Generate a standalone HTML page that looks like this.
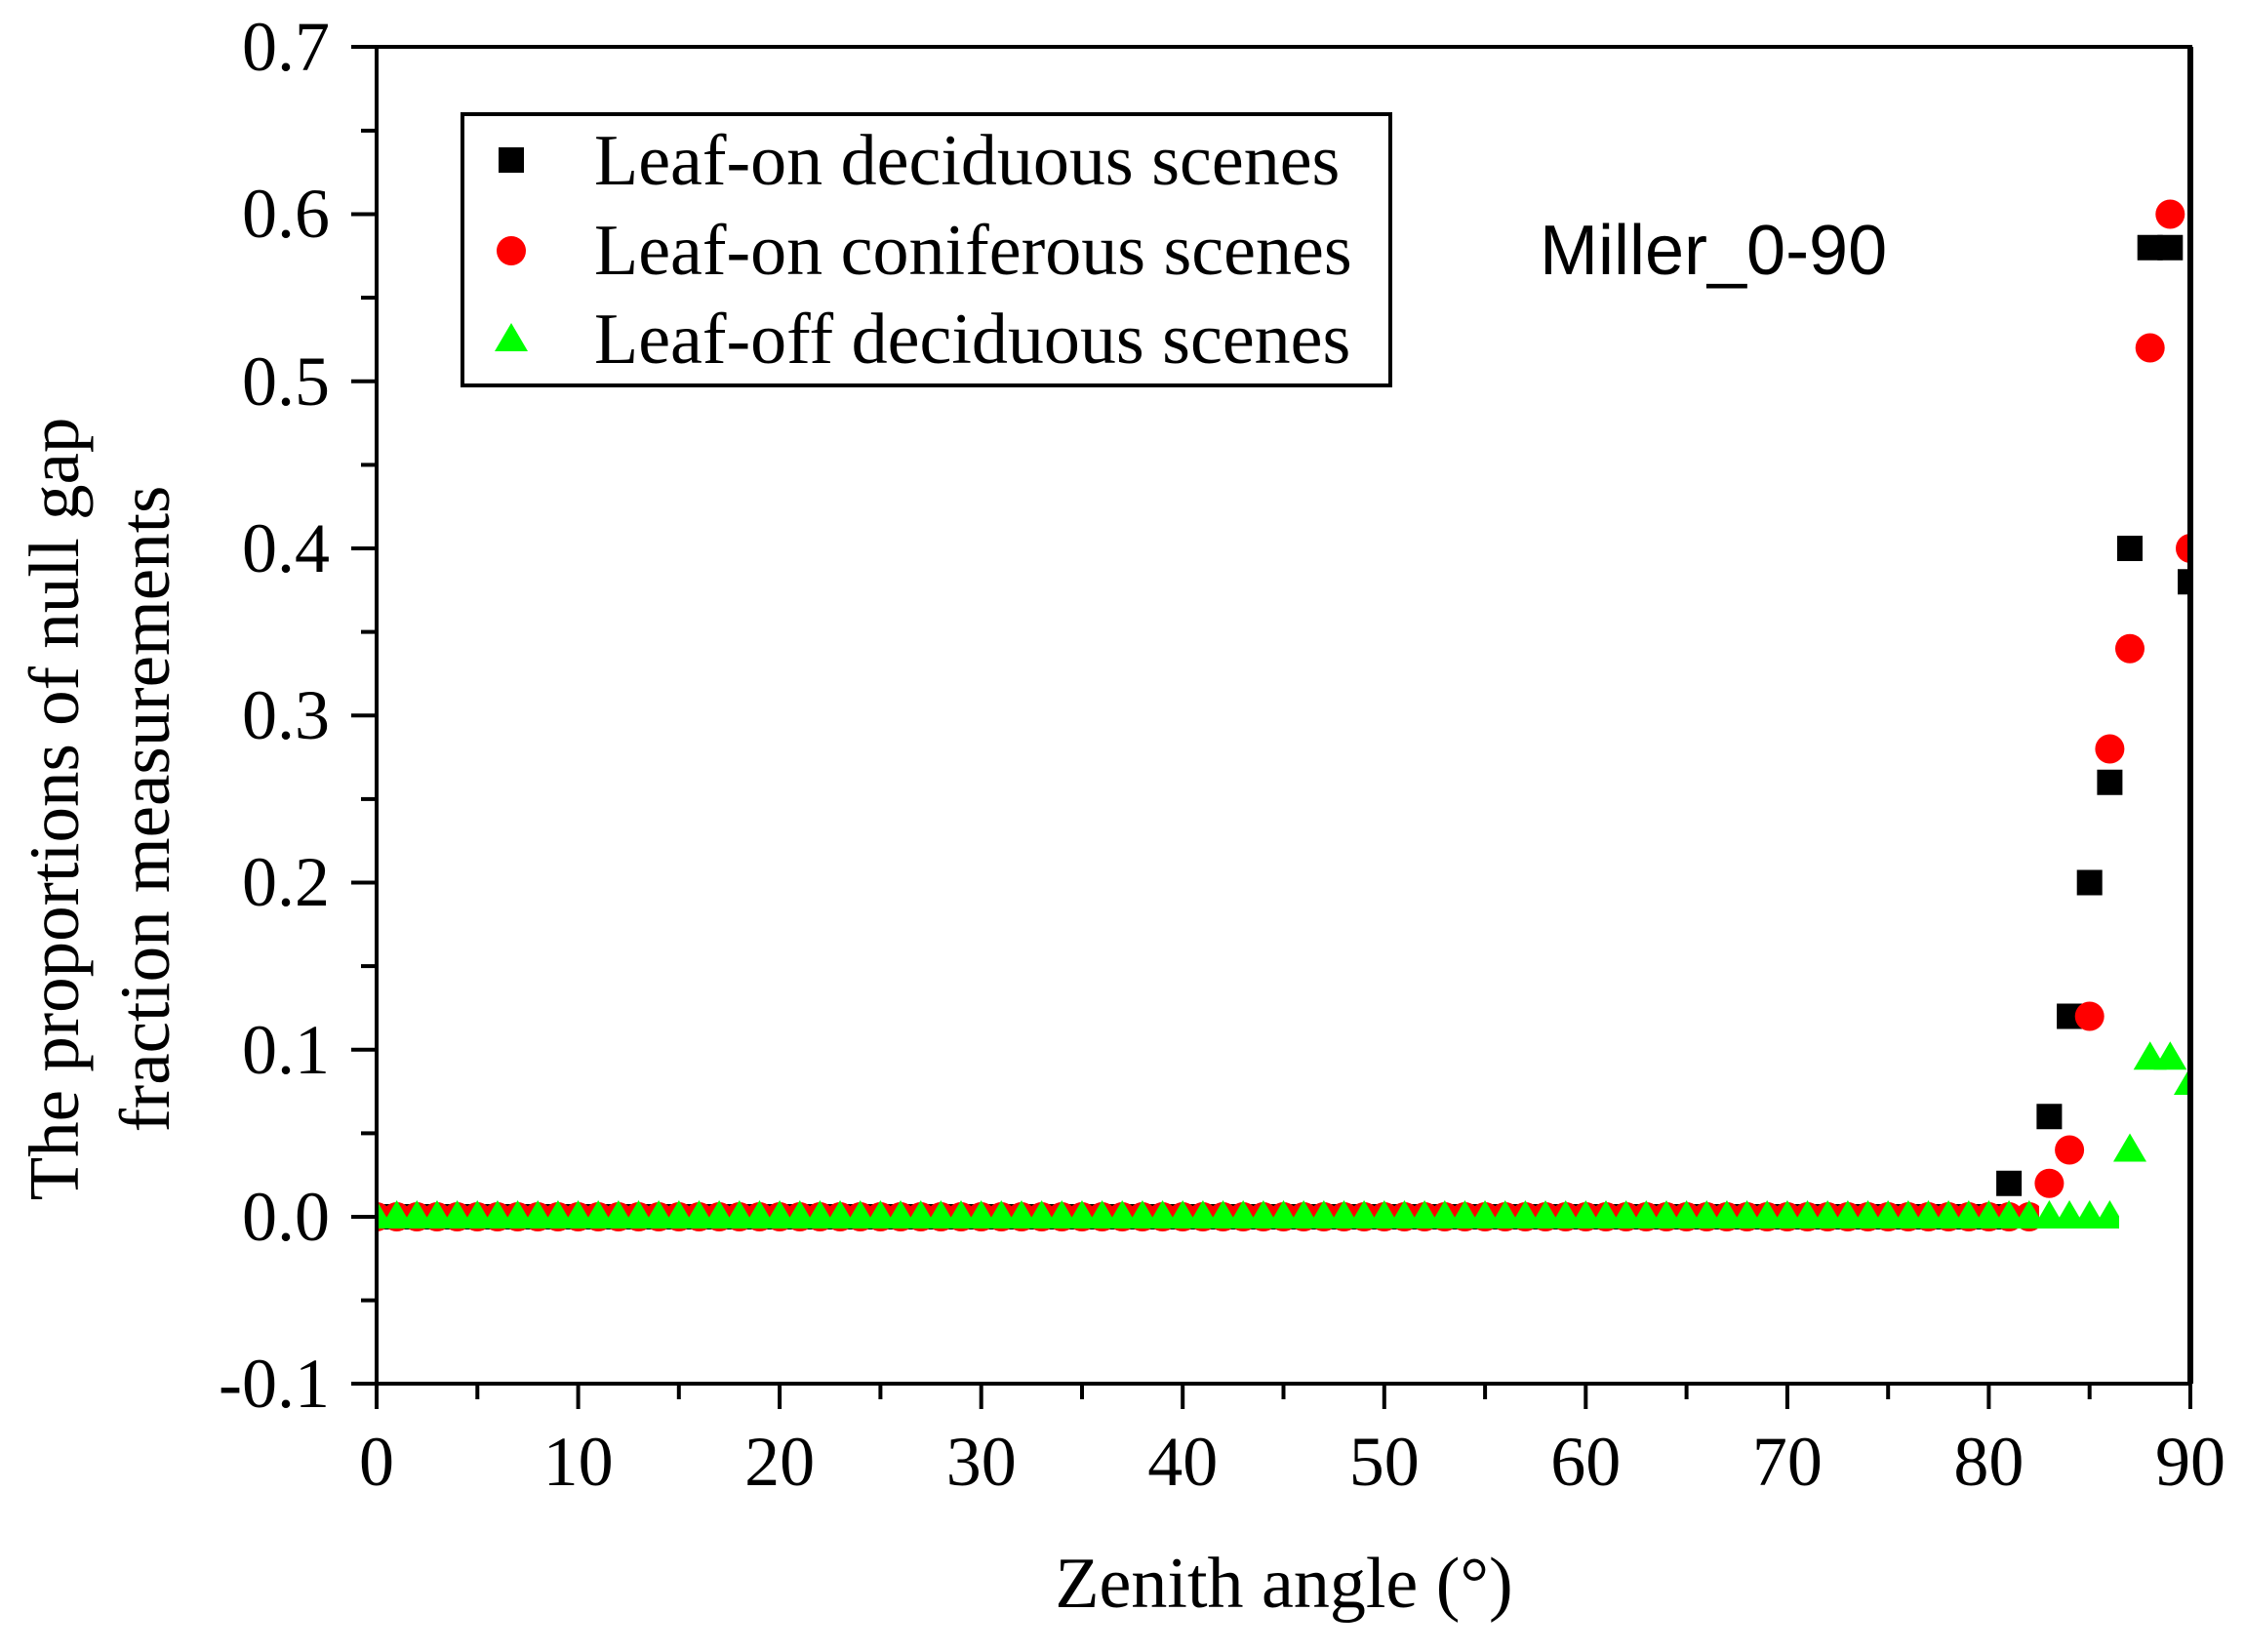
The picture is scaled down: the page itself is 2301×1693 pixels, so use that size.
<!DOCTYPE html>
<html><head><style>html,body{margin:0;padding:0;background:#fff}</style></head>
<body>
<svg width="2301" height="1688" xmlns="http://www.w3.org/2000/svg" font-family="Liberation Serif, serif">
<defs>
<clipPath id="c"><rect x="386" y="48" width="1859" height="1370"/></clipPath>
<pattern id="pc" patternUnits="userSpaceOnUse" x="375.672" y="1232" width="20.6556" height="30">
<circle cx="10.328" cy="15" r="15" fill="#f00"/><circle cx="-10.328" cy="15" r="15" fill="#f00"/><circle cx="30.983" cy="15" r="15" fill="#f00"/>
</pattern>
<pattern id="pt" patternUnits="userSpaceOnUse" x="375.672" y="1230" width="20.6556" height="29">
<polygon points="-6.672,29 27.328,29 10.328,0" fill="#0f0"/><polygon points="-27.328,29 6.672,29 -10.328,0" fill="#0f0"/><polygon points="13.983,29 47.983,29 30.983,0" fill="#0f0"/>
</pattern>
</defs>
<g stroke="#000" stroke-width="4">
<line x1="386" y1="1418" x2="386" y2="1444"/><line x1="489.3" y1="1418" x2="489.3" y2="1434"/><line x1="592.6" y1="1418" x2="592.6" y2="1444"/><line x1="695.8" y1="1418" x2="695.8" y2="1434"/><line x1="799.1" y1="1418" x2="799.1" y2="1444"/><line x1="902.4" y1="1418" x2="902.4" y2="1434"/><line x1="1005.7" y1="1418" x2="1005.7" y2="1444"/><line x1="1109" y1="1418" x2="1109" y2="1434"/><line x1="1212.2" y1="1418" x2="1212.2" y2="1444"/><line x1="1315.5" y1="1418" x2="1315.5" y2="1434"/><line x1="1418.8" y1="1418" x2="1418.8" y2="1444"/><line x1="1522.1" y1="1418" x2="1522.1" y2="1434"/><line x1="1625.3" y1="1418" x2="1625.3" y2="1444"/><line x1="1728.6" y1="1418" x2="1728.6" y2="1434"/><line x1="1831.9" y1="1418" x2="1831.9" y2="1444"/><line x1="1935.2" y1="1418" x2="1935.2" y2="1434"/><line x1="2038.4" y1="1418" x2="2038.4" y2="1444"/><line x1="2141.7" y1="1418" x2="2141.7" y2="1434"/><line x1="2245" y1="1418" x2="2245" y2="1444"/>
<line x1="386" y1="1418" x2="360" y2="1418"/><line x1="386" y1="1332.6" x2="370" y2="1332.6"/><line x1="386" y1="1247" x2="360" y2="1247"/><line x1="386" y1="1161.4" x2="370" y2="1161.4"/><line x1="386" y1="1075.75" x2="360" y2="1075.75"/><line x1="386" y1="990.1" x2="370" y2="990.1"/><line x1="386" y1="904.5" x2="360" y2="904.5"/><line x1="386" y1="818.9" x2="370" y2="818.9"/><line x1="386" y1="733.25" x2="360" y2="733.25"/><line x1="386" y1="647.6" x2="370" y2="647.6"/><line x1="386" y1="562" x2="360" y2="562"/><line x1="386" y1="476.4" x2="370" y2="476.4"/><line x1="386" y1="390.75" x2="360" y2="390.75"/><line x1="386" y1="305.1" x2="370" y2="305.1"/><line x1="386" y1="219.5" x2="360" y2="219.5"/><line x1="386" y1="133.9" x2="370" y2="133.9"/><line x1="386" y1="48" x2="360" y2="48"/>
</g>
<g font-size="72" text-anchor="middle">
<text x="386" y="1522">0</text><text x="592.6" y="1522">10</text><text x="799.1" y="1522">20</text><text x="1005.7" y="1522">30</text><text x="1212.2" y="1522">40</text><text x="1418.8" y="1522">50</text><text x="1625.3" y="1522">60</text><text x="1831.9" y="1522">70</text><text x="2038.4" y="1522">80</text><text x="2245" y="1522">90</text>
</g>
<g font-size="72" text-anchor="end">
<text x="338" y="1442">-0.1</text><text x="338" y="1271">0.0</text><text x="338" y="1100">0.1</text><text x="338" y="928">0.2</text><text x="338" y="757">0.3</text><text x="338" y="586">0.4</text><text x="338" y="415">0.5</text><text x="338" y="243">0.6</text><text x="338" y="72">0.7</text>
</g>
<g clip-path="url(#c)">
<rect x="373" y="1234" width="1678.4" height="26" fill="#000"/>
<rect x="2046.1" y="1199.75" width="26" height="26"/><rect x="2087.4" y="1131.25" width="26" height="26"/><rect x="2108.1" y="1028.5" width="26" height="26"/><rect x="2128.7" y="891.5" width="26" height="26"/><rect x="2149.4" y="788.75" width="26" height="26"/><rect x="2170" y="549" width="26" height="26"/><rect x="2190.7" y="240.75" width="26" height="26"/><rect x="2211.3" y="240.75" width="26" height="26"/><rect x="2232" y="583.25" width="26" height="26"/>
<rect x="371" y="1232" width="1719" height="30" fill="url(#pc)"/>
<g fill="#f00">
<circle cx="2100.4" cy="1212.75" r="15"/><circle cx="2121.1" cy="1178.5" r="15"/><circle cx="2141.7" cy="1041.5" r="15"/><circle cx="2162.4" cy="767.5" r="15"/><circle cx="2183" cy="664.75" r="15"/><circle cx="2203.7" cy="356.5" r="15"/><circle cx="2224.3" cy="219.5" r="15"/><circle cx="2245" cy="562" r="15"/>
</g>
<rect x="369" y="1230" width="1803" height="29" fill="url(#pt)"/>
<g fill="#0f0">
<polygon points="2166,1190.5 2200,1190.5 2183,1161.5"/><polygon points="2186.7,1096.3 2220.7,1096.3 2203.7,1067.3"/><polygon points="2207.3,1096.3 2241.3,1096.3 2224.3,1067.3"/><polygon points="2228,1122 2262,1122 2245,1093"/>
</g>
</g>
<rect x="386" y="48" width="1859" height="1370" fill="none" stroke="#000" stroke-width="4"/>
<line x1="2245" y1="48" x2="2245" y2="1418" stroke="#000" stroke-width="6"/>
<rect x="474" y="117" width="951" height="278" fill="none" stroke="#000" stroke-width="4"/>
<rect x="511" y="151" width="26" height="26" fill="#000"/>
<circle cx="524" cy="257" r="15" fill="#f00"/>
<polygon points="507,360 541,360 524,331" fill="#0f0"/>
<g font-size="74">
<text x="609" y="189">Leaf-on deciduous scenes</text>
<text x="609" y="281">Leaf-on coniferous scenes</text>
<text x="609" y="372">Leaf-off deciduous scenes</text>
</g>
<text x="1578" y="281" font-size="72" font-family="Liberation Sans, sans-serif">Miller_0-90</text>
<text x="1316" y="1647" font-size="74" text-anchor="middle">Zenith angle (°)</text>
<g transform="translate(80,829) rotate(-90)" font-size="73" text-anchor="middle">
<text x="0" y="0">The proportions of null gap</text>
<text x="0" y="93">fraction measurements</text>
</g>
</svg>
</body></html>
